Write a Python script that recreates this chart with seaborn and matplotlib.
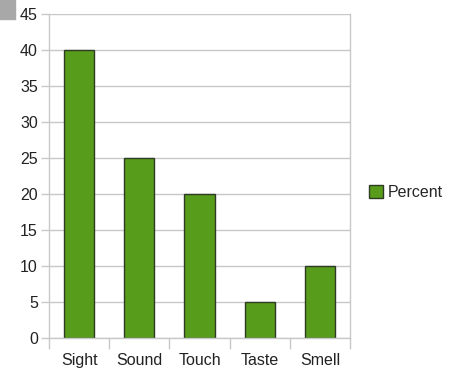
import numpy as np
import pandas as pd
import matplotlib
matplotlib.use("Agg")
import matplotlib.pyplot as plt
from matplotlib.ticker import FixedLocator
import seaborn as sns

senses = ["Sight", "Sound", "Touch", "Taste", "Smell"]
percent = [40, 25, 20, 5, 10]
y_ticks = list(range(0, 50, 5))

sns.set_theme(style="white")
plt.rcParams['font.family'] = ['Liberation Sans', 'DejaVu Sans']

df = pd.DataFrame({"sense": senses, "Percent": percent})

fig = plt.figure(figsize=(4.54, 3.7), dpi=100)
ax = fig.add_axes([0.108, 0.0865, 0.663, 0.8755])

bar_green = "#589c1c"
sns.barplot(data=df, x="sense", y="Percent", color=bar_green, edgecolor="#2f3a22",
            linewidth=1.0, width=0.5, saturation=1, ax=ax, label="Percent")

ax.set_xlim(-0.5, len(senses) - 0.5)
ax.set_ylim(0, 45)
ax.set_yticks(y_ticks)
ax.yaxis.grid(True, color="#c8c8c8", linewidth=1)
ax.set_axisbelow(True)
ax.set_xlabel("")
ax.set_ylabel("")

# category separator ticks below the axis
ax.xaxis.set_minor_locator(FixedLocator(np.arange(-0.5, len(senses), 1)))
ax.tick_params(axis="x", which="major", length=0, labelsize=11.5, pad=11, colors="#222222")
ax.tick_params(axis="x", which="minor", length=8, width=1, color="#c8c8c8", bottom=True)
ax.tick_params(axis="y", which="major", length=6, width=1, color="#c8c8c8",
               left=True, labelsize=11.5, pad=2, labelcolor="#222222")

ax.spines["top"].set_visible(False)
for side in ["left", "right", "bottom"]:
    ax.spines[side].set_color("#c8c8c8")
    ax.spines[side].set_linewidth(1)

ax.legend(loc="center left", bbox_to_anchor=(1.015, 0.45), frameon=False,
          fontsize=11.5, handlelength=0.9, handleheight=0.9, handletextpad=0.3)

# small grey tab in the top-left corner
fig.patches.append(plt.Rectangle((0, 0.95), 0.032, 0.05, transform=fig.transFigure,
                                 color="#a8a8a8", zorder=0))

fig.savefig("out.png", dpi=100)
